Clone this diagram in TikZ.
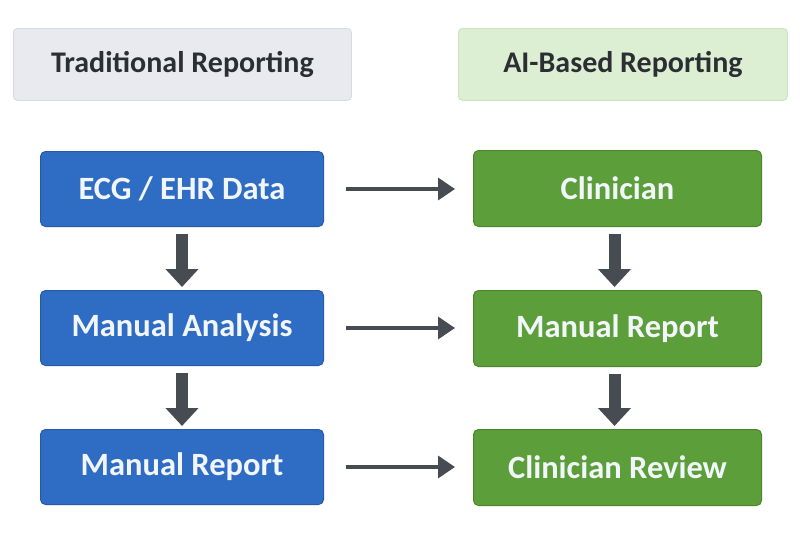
\documentclass[tikz,border=0pt]{standalone}
\usepackage{fontspec}
\setmainfont{Carlito}
\usetikzlibrary{arrows.meta}
\definecolor{bluefill}{HTML}{2F6DC4}
\definecolor{blueedge}{HTML}{2659A8}
\definecolor{greenfill}{HTML}{5C9F3A}
\definecolor{greenedge}{HTML}{4A872C}
\definecolor{hdrgray}{HTML}{E9EAEF}
\definecolor{hdrgrayedge}{HTML}{D9DADF}
\definecolor{hdrgreen}{HTML}{DDEFD3}
\definecolor{hdrgreenedge}{HTML}{CCE2C0}
\definecolor{hdrtext}{HTML}{2B2F33}
\definecolor{arrowgray}{HTML}{474C53}
\definecolor{boxtext}{HTML}{F2F6FA}
\tikzset{
  hdr/.style={rounded corners=4pt, line width=0.8pt, font=\fontsize{30}{34}\selectfont\bfseries, text=hdrtext, minimum height=72pt, anchor=north west},
  bluebox/.style={rounded corners=5pt, fill=bluefill, draw=blueedge, line width=1pt, text=boxtext, font=\fontsize{32.5}{38}\selectfont\bfseries, minimum width=283pt, minimum height=75pt, anchor=north west},
  greenbox/.style={rounded corners=5pt, fill=greenfill, draw=greenedge, line width=1pt, text=boxtext, font=\fontsize{32.5}{38}\selectfont\bfseries, minimum width=288pt, minimum height=76pt, anchor=north west},
  harrow/.style={draw=arrowgray, line width=3.5pt, -{Triangle[width=22pt,length=17pt]}, shorten <=22pt, shorten >=18pt},
  varrow/.style={draw=arrowgray, line width=12pt, -{Triangle[width=32pt,length=18pt]}, shorten <=7pt, shorten >=3pt},
}
\begin{document}
\begin{tikzpicture}[x=1pt,y=-1pt]
\useasboundingbox (0,0) rectangle (800,536);
\fill[white] (0,0) rectangle (800,536);
\node[hdr, fill=hdrgray, draw=hdrgrayedge, minimum width=338pt] (hl) at (13,28) {Traditional Reporting};
\node[hdr, fill=hdrgreen, draw=hdrgreenedge, minimum width=329pt] (hr) at (458,28) {AI-Based Reporting};
\node[bluebox] (b1) at (40,151) {ECG / EHR Data};
\node[bluebox] (b2) at (40,290) {Manual Analysis};
\node[bluebox] (b3) at (40,429) {Manual Report};
\node[greenbox] (g1) at (473,150) {Clinician};
\node[greenbox] (g2) at (473,290) {Manual Report};
\node[greenbox] (g3) at (473,429) {Clinician Review};
\draw[varrow] (b1.south) -- (b2.north);
\draw[varrow] (b2.south) -- (b3.north);
\draw[varrow] ([xshift=-3pt]g1.south) -- ([xshift=-3pt]g2.north);
\draw[varrow] ([xshift=-3pt]g2.south) -- ([xshift=-3pt]g3.north);
\draw[harrow] (b1.east) -- (b1.east -| g1.west);
\draw[harrow] (b2.east) -- (b2.east -| g2.west);
\draw[harrow] (b3.east) -- (b3.east -| g3.west);
\end{tikzpicture}
\end{document}
